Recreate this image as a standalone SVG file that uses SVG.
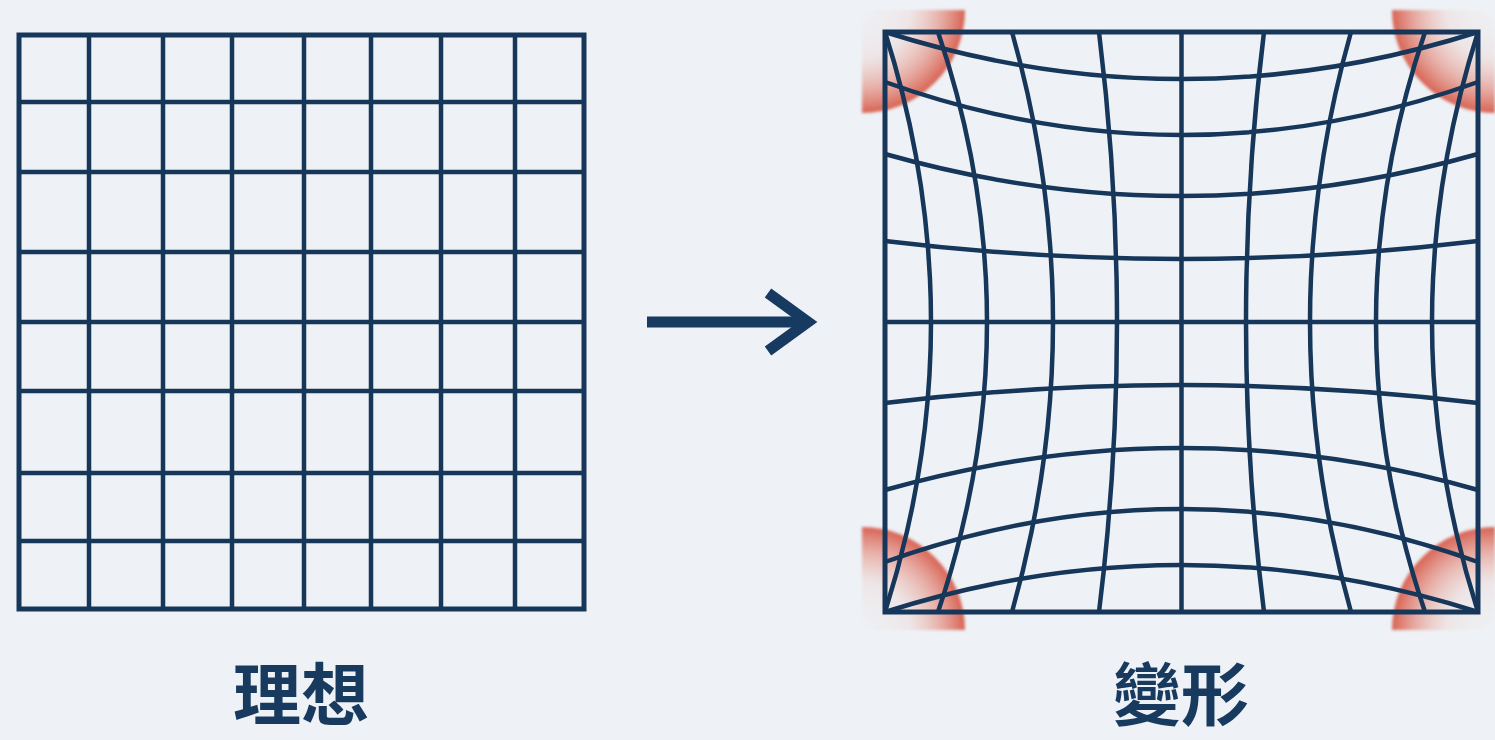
<svg xmlns="http://www.w3.org/2000/svg" width="1495" height="740" viewBox="0 0 1495 740">
  <style>
    .g { fill: none; stroke: #16365a; stroke-width: 4.5; stroke-linecap: butt; }
    .frame { fill: none; stroke: #16365a; stroke-width: 5; }
    .lbl { font-family: "Noto Sans CJK TC", "Noto Sans CJK SC", sans-serif; font-weight: 700; font-size: 68px; fill: #173a5e; text-anchor: middle; }
    .arrow { fill: none; stroke: #163a60; stroke-width: 11; stroke-linecap: butt; stroke-linejoin: miter; }
  </style>
  <defs>
    <radialGradient id="glow" gradientUnits="userSpaceOnUse" cx="0" cy="0" r="104">
      <stop offset="0" stop-color="#f2b8ad" stop-opacity="0"/>
      <stop offset="0.45" stop-color="#eea698" stop-opacity="0.15"/>
      <stop offset="0.75" stop-color="#e27a69" stop-opacity="0.55"/>
      <stop offset="1" stop-color="#d4513f" stop-opacity="0.92"/>
    </radialGradient>
    <filter id="soft" x="-0.2" y="-0.2" width="1.4" height="1.4">
      <feGaussianBlur stdDeviation="1.8"/>
    </filter>
    <path id="quad" d="M0,0 L103,0 A103,103 0 0 1 0,103 Z" fill="url(#glow)"/>
  </defs>

  <rect x="0" y="0" width="1495" height="740" fill="#eef2f6"/>

  <g id="ideal-grid">
    <rect class="frame" x="19" y="35" width="565" height="574"/>
    <path class="g" d="M89,35V609 M163,35V609 M232,35V609 M304,35V609 M371,35V609 M441,35V609 M515,35V609"/>
    <path class="g" d="M19,102H584 M19,172H584 M19,252H584 M19,322H584 M19,391H584 M19,473H584 M19,541H584"/>
  </g>

  <g id="corner-highlights" filter="url(#soft)">
    <use href="#quad" transform="translate(862,10)"/>
    <use href="#quad" transform="translate(1495,10) scale(-1,1)"/>
    <use href="#quad" transform="translate(862,630) scale(1,-1)"/>
    <use href="#quad" transform="translate(1495,630) scale(-1,-1)"/>
  </g>

  <g id="distorted-grid">
    <rect class="frame" x="885" y="32" width="593" height="580"/>
    <path class="g" d="M885,32 Q977,322 885,612"/>
    <path class="g" d="M938,32 Q1036,322 938,612"/>
    <path class="g" d="M1012,32 Q1094,322 1012,612"/>
    <path class="g" d="M1099,32 Q1135,322 1099,612"/>
    <path class="g" d="M1181.5,32 V612"/>
    <path class="g" d="M1264,32 Q1228,322 1264,612"/>
    <path class="g" d="M1351,32 Q1269,322 1351,612"/>
    <path class="g" d="M1425,32 Q1327,322 1425,612"/>
    <path class="g" d="M1478,32 Q1386,322 1478,612"/>
    <path class="g" d="M885,32 Q1181.5,126 1478,32"/>
    <path class="g" d="M885,82 Q1181.5,188 1478,82"/>
    <path class="g" d="M885,154 Q1181.5,238 1478,154"/>
    <path class="g" d="M885,241 Q1181.5,277 1478,241"/>
    <path class="g" d="M885,322 H1478"/>
    <path class="g" d="M885,403 Q1181.5,367 1478,403"/>
    <path class="g" d="M885,490 Q1181.5,406 1478,490"/>
    <path class="g" d="M885,562 Q1181.5,456 1478,562"/>
    <path class="g" d="M885,612 Q1181.5,518 1478,612"/>
  </g>

  <g id="connectors">
    <g id="arrow">
      <path class="arrow" d="M647,322 H806"/>
      <path class="arrow" d="M768,293 L808,322 L768,351"/>
    </g>
  </g>

  <g id="label-ideal"><text class="lbl" x="301" y="720">理想</text></g>
  <g id="label-distorted"><text class="lbl" x="1181" y="720">變形</text></g>
</svg>
